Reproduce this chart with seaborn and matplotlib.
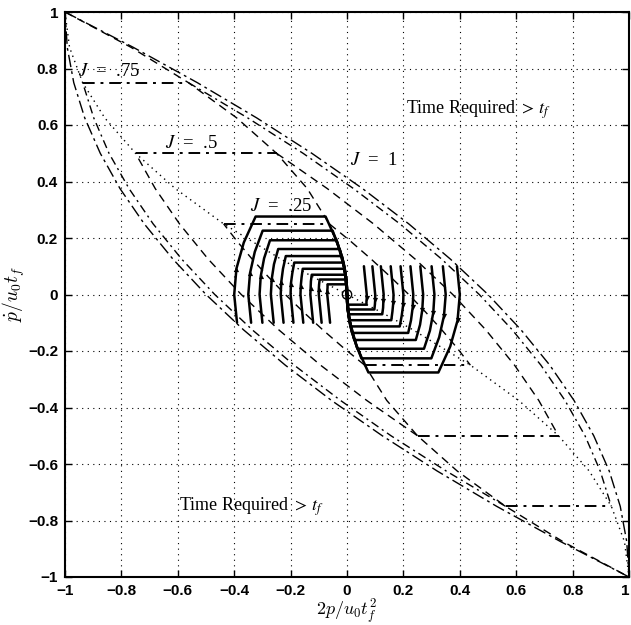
import numpy as np
import pandas as pd
import matplotlib
matplotlib.use("Agg")
import matplotlib.pyplot as plt
import seaborn as sns

# ---------------- data ----------------
# J = const contours (right-hand and left-hand branches)
J1_right_x = [-1.0, -0.758, -0.531, -0.320, -0.125, 0.055, 0.219, 0.367, 0.5, 0.617, 0.719, 0.805, 0.875, 0.930, 0.969, 0.992, 1.0]
J1_right_y = [1.0, 0.875, 0.75, 0.625, 0.5, 0.375, 0.25, 0.125, 0.0, -0.125, -0.25, -0.375, -0.5, -0.625, -0.75, -0.875, -1.0]
J1_left_x = [1.0, 0.758, 0.531, 0.320, 0.125, -0.055, -0.219, -0.367, -0.5, -0.617, -0.719, -0.805, -0.875, -0.930, -0.969, -0.992, -1.0]
J1_left_y = [-1.0, -0.875, -0.75, -0.625, -0.5, -0.375, -0.25, -0.125, 0.0, 0.125, 0.25, 0.375, 0.5, 0.625, 0.75, 0.875, 1.0]

J75_right_x = [-0.5625, -0.352, -0.156, 0.023, 0.1875, 0.336, 0.469, 0.586, 0.6875, 0.773, 0.844, 0.898, 0.9375]
J75_right_y = [0.75, 0.625, 0.5, 0.375, 0.25, 0.125, 0.0, -0.125, -0.25, -0.375, -0.5, -0.625, -0.75]
J75_left_x = [0.5625, 0.352, 0.156, -0.023, -0.1875, -0.336, -0.469, -0.586, -0.6875, -0.773, -0.844, -0.898, -0.9375]
J75_left_y = [-0.75, -0.625, -0.5, -0.375, -0.25, -0.125, 0.0, 0.125, 0.25, 0.375, 0.5, 0.625, 0.75]

J50_right_x = [-0.25, -0.070, 0.094, 0.242, 0.375, 0.492, 0.594, 0.680, 0.75]
J50_right_y = [0.5, 0.375, 0.25, 0.125, 0.0, -0.125, -0.25, -0.375, -0.5]
J50_left_x = [0.25, 0.070, -0.094, -0.242, -0.375, -0.492, -0.594, -0.680, -0.75]
J50_left_y = [-0.5, -0.375, -0.25, -0.125, 0.0, 0.125, 0.25, 0.375, 0.5]

J25_right_x = [-0.0625, 0.014, 0.086, 0.154, 0.219, 0.279, 0.336, 0.389, 0.4375]
J25_right_y = [0.25, 0.1875, 0.125, 0.0625, 0.0, -0.0625, -0.125, -0.1875, -0.25]
J25_left_x = [0.0625, -0.014, -0.086, -0.154, -0.219, -0.279, -0.336, -0.389, -0.4375]
J25_left_y = [-0.25, -0.1875, -0.125, -0.0625, 0.0, 0.0625, 0.125, 0.1875, 0.25]

# horizontal (coasting) parts of the J contours
seg_levels = [0.75, 0.5, 0.25, -0.25, -0.5, -0.75]
seg_x_start = [-0.9375, -0.75, -0.4375, 0.0625, 0.25, 0.5625]
seg_x_end = [-0.5625, -0.25, -0.0625, 0.4375, 0.75, 0.9375]

# switching curves (dashed)
sw_up_x = [-1.0, -0.766, -0.5625, -0.391, -0.25, -0.141, -0.0625, -0.0156, 0.0]
sw_up_y = [1.0, 0.875, 0.75, 0.625, 0.5, 0.375, 0.25, 0.125, 0.0]
sw_lo_x = [0.0, 0.0156, 0.0625, 0.141, 0.25, 0.391, 0.5625, 0.766, 1.0]
sw_lo_y = [0.0, -0.125, -0.25, -0.375, -0.5, -0.625, -0.75, -0.875, -1.0]

# coast-region boundaries (dotted)
bd_up_x = [-1.0, -0.984, -0.9375, -0.859, -0.75, -0.609, -0.4375, -0.234, -0.121, 0.0]
bd_up_y = [1.0, 0.875, 0.75, 0.625, 0.5, 0.375, 0.25, 0.125, 0.0625, 0.0]
bd_lo_x = [0.0, 0.121, 0.234, 0.4375, 0.609, 0.75, 0.859, 0.9375, 0.984, 1.0]
bd_lo_y = [0.0, -0.0625, -0.125, -0.25, -0.375, -0.5, -0.625, -0.75, -0.875, -1.0]

# optimal trajectories, upper-left family (start slightly below the axis)
traj_ul_x = [
    [-0.390, -0.400, -0.392, -0.366, -0.324, -0.076, -0.034, -0.009, 0.0],
    [-0.340, -0.350, -0.344, -0.327, -0.299, -0.051, -0.023, -0.006, 0.0],
    [-0.300, -0.310, -0.306, -0.294, -0.273, -0.037, -0.016, -0.004, 0.0],
    [-0.260, -0.270, -0.267, -0.259, -0.244, -0.026, -0.011, -0.003, 0.0],
    [-0.225, -0.235, -0.233, -0.227, -0.217, -0.018, -0.008, -0.002, 0.0],
    [-0.190, -0.200, -0.199, -0.194, -0.187, -0.013, -0.006, -0.001, 0.0],
    [-0.155, -0.165, -0.164, -0.161, -0.157, -0.008, -0.004, -0.001, 0.0],
    [-0.120, -0.130, -0.129, -0.128, -0.125, -0.005, -0.002, 0.0, 0.0],
    [-0.090, -0.100, -0.100, -0.099, -0.097, -0.003, -0.001, 0.0, 0.0],
    [-0.060, -0.070, -0.070, -0.069, -0.069, -0.001, 0.0, 0.0, 0.0],
]
traj_ul_y = [
    [-0.10, 0.0, 0.092, 0.184, 0.276, 0.276, 0.184, 0.092, 0.0],
    [-0.10, 0.0, 0.075, 0.151, 0.226, 0.226, 0.151, 0.075, 0.0],
    [-0.10, 0.0, 0.064, 0.128, 0.192, 0.192, 0.128, 0.064, 0.0],
    [-0.10, 0.0, 0.054, 0.107, 0.161, 0.161, 0.107, 0.054, 0.0],
    [-0.10, 0.0, 0.045, 0.091, 0.136, 0.136, 0.091, 0.045, 0.0],
    [-0.10, 0.0, 0.038, 0.075, 0.113, 0.113, 0.075, 0.038, 0.0],
    [-0.10, 0.0, 0.030, 0.061, 0.091, 0.091, 0.061, 0.030, 0.0],
    [-0.10, 0.0, 0.023, 0.047, 0.070, 0.070, 0.047, 0.023, 0.0],
    [-0.10, 0.0, 0.018, 0.035, 0.053, 0.053, 0.035, 0.018, 0.0],
    [-0.10, 0.0, 0.012, 0.024, 0.036, 0.036, 0.024, 0.012, 0.0],
]
# lower-right family (start slightly above the axis)
traj_lr_x = [
    [0.390, 0.400, 0.392, 0.366, 0.324, 0.076, 0.034, 0.009, 0.0],
    [0.340, 0.350, 0.344, 0.327, 0.299, 0.051, 0.023, 0.006, 0.0],
    [0.300, 0.310, 0.306, 0.294, 0.273, 0.037, 0.016, 0.004, 0.0],
    [0.260, 0.270, 0.267, 0.259, 0.244, 0.026, 0.011, 0.003, 0.0],
    [0.225, 0.235, 0.233, 0.227, 0.217, 0.018, 0.008, 0.002, 0.0],
    [0.190, 0.200, 0.199, 0.194, 0.187, 0.013, 0.006, 0.001, 0.0],
    [0.155, 0.165, 0.164, 0.161, 0.157, 0.008, 0.004, 0.001, 0.0],
    [0.120, 0.130, 0.129, 0.128, 0.125, 0.005, 0.002, 0.0, 0.0],
    [0.090, 0.100, 0.100, 0.099, 0.097, 0.003, 0.001, 0.0, 0.0],
    [0.060, 0.070, 0.070, 0.069, 0.069, 0.001, 0.0, 0.0, 0.0],
]
traj_lr_y = [
    [0.10, 0.0, -0.092, -0.184, -0.276, -0.276, -0.184, -0.092, 0.0],
    [0.10, 0.0, -0.075, -0.151, -0.226, -0.226, -0.151, -0.075, 0.0],
    [0.10, 0.0, -0.064, -0.128, -0.192, -0.192, -0.128, -0.064, 0.0],
    [0.10, 0.0, -0.054, -0.107, -0.161, -0.161, -0.107, -0.054, 0.0],
    [0.10, 0.0, -0.045, -0.091, -0.136, -0.136, -0.091, -0.045, 0.0],
    [0.10, 0.0, -0.038, -0.075, -0.113, -0.113, -0.075, -0.038, 0.0],
    [0.10, 0.0, -0.030, -0.061, -0.091, -0.091, -0.061, -0.030, 0.0],
    [0.10, 0.0, -0.023, -0.047, -0.070, -0.070, -0.047, -0.023, 0.0],
    [0.10, 0.0, -0.018, -0.035, -0.053, -0.053, -0.035, -0.018, 0.0],
    [0.10, 0.0, -0.012, -0.024, -0.036, -0.036, -0.024, -0.012, 0.0],
]

# tick labels
tick_values = [-1, -0.8, -0.6, -0.4, -0.2, 0, 0.2, 0.4, 0.6, 0.8, 1]
tick_labels = ["\u22121", "\u22120.8", "\u22120.6", "\u22120.4", "\u22120.2", "0", "0.2", "0.4", "0.6", "0.8", "1"]

# annotations
label_texts = [r"$J$  =  .75", r"$J$  =  .5", r"$J$  =  .25", r"$J$  =  1"]
label_x = [-0.955, -0.645, -0.345, 0.01]
label_y = [0.79, 0.535, 0.31, 0.475]
region_texts = [r"Time Required $>\,t_f$", r"Time Required $>\,t_f$"]
region_x = [0.21, -0.595]
region_y = [0.655, -0.75]

# ---------------- drawing ----------------
sns.set_theme(style="white")
plt.rcParams["font.family"] = ["Liberation Sans", "DejaVu Sans"]
plt.rcParams["axes.unicode_minus"] = True
plt.rcParams["text.color"] = "black"
plt.rcParams["axes.labelcolor"] = "black"

W, H = 631, 625
fig = plt.figure(figsize=(W / 100, H / 100), dpi=100)
fig.patch.set_facecolor("white")
ax = fig.add_axes([65 / W, 1 - 577 / H, (629 - 65) / W, (577 - 12) / H])
ax.set_facecolor("white")


def draw(xs, ys, ls, lw, z=3):
    df = pd.DataFrame({"x": xs, "y": ys})
    sns.lineplot(data=df, x="x", y="y", sort=False, estimator=None, color="black",
                 linestyle=ls, linewidth=lw, ax=ax, legend=False, zorder=z)


dashdot_long = (0, (9, 3, 2, 3))
dashdot = (0, (6, 3, 1.5, 3))
dashed = (0, (6, 4))
dotted = (0, (1, 3))

draw(J1_right_x, J1_right_y, dashdot_long, 1.0)
draw(J1_left_x, J1_left_y, dashdot_long, 1.0)
draw(J75_right_x, J75_right_y, dashdot, 1.0)
draw(J75_left_x, J75_left_y, dashdot, 1.0)
draw(J50_right_x, J50_right_y, dashed, 1.0)
draw(J50_left_x, J50_left_y, dashed, 1.0)
draw(J25_right_x, J25_right_y, dashed, 1.0)
draw(J25_left_x, J25_left_y, dashed, 1.0)
for lvl, xa, xb in zip(seg_levels, seg_x_start, seg_x_end):
    draw([xa, xb], [lvl, lvl], dashdot, 1.4)
draw(sw_up_x, sw_up_y, dashed, 1.0)
draw(sw_lo_x, sw_lo_y, dashed, 1.0)
draw(bd_up_x, bd_up_y, dotted, 1.0)
draw(bd_lo_x, bd_lo_y, dotted, 1.0)

for xs, ys in zip(traj_ul_x, traj_ul_y):
    draw(xs, ys, "-", 1.8, z=4)
for xs, ys in zip(traj_lr_x, traj_lr_y):
    draw(xs, ys, "-", 1.8, z=4)

# small arrowheads on the accelerating arcs (at the second stored point above/below axis)
arr_ul_x = [xs[2] for xs in traj_ul_x]
arr_ul_y = [ys[2] for ys in traj_ul_y]
arr_lr_x = [xs[2] for xs in traj_lr_x]
arr_lr_y = [ys[2] for ys in traj_lr_y]
sns.scatterplot(x=arr_ul_x, y=arr_ul_y, marker="^", s=14, color="black",
                edgecolor="black", linewidth=0, ax=ax, zorder=5)
sns.scatterplot(x=arr_lr_x, y=arr_lr_y, marker="v", s=14, color="black",
                edgecolor="black", linewidth=0, ax=ax, zorder=5)

sns.scatterplot(x=[0.0], y=[0.0], marker="o", s=45, facecolors="none",
                edgecolors="black", linewidths=1.0, ax=ax, zorder=5)

for t, x, y in zip(label_texts, label_x, label_y):
    ax.text(x, y, t, fontsize=13.5, ha="left", va="center", math_fontfamily="stix",
            family="Liberation Serif", color="black", zorder=6)
for t, x, y in zip(region_texts, region_x, region_y):
    ax.text(x, y, t, fontsize=13, ha="left", va="center", math_fontfamily="stix",
            family="Liberation Serif", color="black", zorder=6)

ax.set_xlim(-1, 1)
ax.set_ylim(-1, 1)
ax.set_xticks(tick_values)
ax.set_yticks(tick_values)
ax.set_xticklabels(tick_labels, fontweight="bold", fontsize=11)
ax.set_yticklabels(tick_labels, fontweight="bold", fontsize=11)
xl = ax.get_xticklabels()
xl[-1].set_horizontalalignment("right")
ax.tick_params(direction="in", length=5, width=1.0, top=True, right=True,
               bottom=True, left=True, colors="black", pad=5)
ax.grid(True, linestyle=(0, (1, 4)), color="black", linewidth=0.8)
ax.set_axisbelow(True)
for s in ax.spines.values():
    s.set_visible(True)
    s.set_color("black")
    s.set_linewidth(1.5)

ax.set_xlabel(r"$2p/u_0t_f^2$", fontsize=13, math_fontfamily="cm", labelpad=-0.5, color="black")
ax.set_ylabel(r"$\dot{p}/u_0t_f$", fontsize=14, math_fontfamily="cm", labelpad=1, color="black")

fig.savefig("out.png", dpi=100, facecolor="white")
